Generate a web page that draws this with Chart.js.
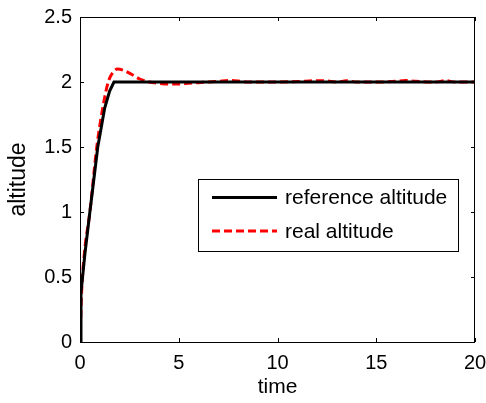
<!DOCTYPE html>
<html>
<head>
<meta charset="utf-8">
<script src="https://cdn.jsdelivr.net/npm/chart.js@4"></script>
<style>
  body { margin: 0; background: #fff; }
  canvas { display: block; }
</style>
</head>
<body>
<canvas id="myChart" width="486" height="403"></canvas>
<script>
const ctx = document.getElementById('myChart');

// referencia (negro)
const timeRef = [0, 0.05, 0.25, 0.5, 0.9, 1.25, 1.5, 1.72, 20];
const altRef = [0, 0.38, 0.68, 1.0, 1.5, 1.8, 1.93, 2.0, 2.0];

// altitud real (rojo discontinuo)
const timeReal = [0, 0.08, 0.22, 0.5, 0.85, 1.15, 1.43, 1.65, 1.9, 2.2, 2.6, 3.0, 3.5, 4.0, 4.5, 5.0, 5.5, 6.0, 6.5, 7.0, 7.5, 8.0, 8.5, 9, 10, 11, 12, 12.5, 13, 13.5, 14, 15, 16, 16.5, 17, 18, 18.5, 19, 20];
const altReal = [0, 0.38, 0.68, 1.0, 1.5, 1.8, 2.0, 2.07, 2.1, 2.09, 2.06, 2.025, 2.0, 1.99, 1.985, 1.985, 1.99, 1.995, 2.0, 2.005, 2.012, 2.008, 2.0, 2.0, 2.0, 2.003, 2.01, 2.008, 2.0, 2.01, 2.0, 2.0, 2.005, 2.012, 2.005, 2.0, 2.01, 2.0, 2.0];

const xTicks = [0, 5, 10, 15, 20];
const yTicks = [0, 0.5, 1, 1.5, 2, 2.5];
const labels = ['reference altitude', 'real altitude'];

const FONT = 'Liberation Sans, Arial, sans-serif';

const toPoints = (xs, ys) => xs.map((x, i) => ({ x: x, y: ys[i] }));

// marco, ticks hacia dentro y leyenda estilo matlab
const matlabAxes = {
  id: 'matlabAxes',
  afterDraw(chart) {
    const c = chart.ctx;
    const a = chart.chartArea;
    const sx = chart.scales.x, sy = chart.scales.y;
    c.save();
    c.strokeStyle = '#000';
    c.lineWidth = 1;
    c.strokeRect(a.left + 0.5, a.top + 0.5, a.right - a.left - 1, a.bottom - a.top);
    const tl = 4;
    c.beginPath();
    sx.ticks.forEach(t => {
      const px = Math.round(sx.getPixelForValue(t.value)) + 0.5;
      c.moveTo(px, a.bottom); c.lineTo(px, a.bottom - tl);
      c.moveTo(px, a.top); c.lineTo(px, a.top + tl);
    });
    sy.ticks.forEach(t => {
      const py = Math.round(sy.getPixelForValue(t.value)) + 0.5;
      c.moveTo(a.left, py); c.lineTo(a.left + tl, py);
      c.moveTo(a.right, py); c.lineTo(a.right - tl, py);
    });
    c.stroke();

    // leyenda
    const bx = 198, by = 179, bw = 260, bh = 72;
    c.fillStyle = '#fff';
    c.fillRect(bx, by, bw, bh);
    c.strokeRect(bx + 0.5, by + 0.5, bw, bh);
    const rows = [197.5, 231];
    chart.data.datasets.forEach((ds, i) => {
      c.beginPath();
      c.strokeStyle = ds.borderColor;
      c.lineWidth = ds.borderWidth;
      c.setLineDash(ds.borderDash || []);
      c.moveTo(212, rows[i]); c.lineTo(277, rows[i]);
      c.stroke();
      c.setLineDash([]);
      c.fillStyle = '#000';
      c.font = '21px ' + FONT;
      c.textBaseline = 'middle';
      c.fillText(ds.label, 285, rows[i] + 1);
    });
    c.restore();
  }
};

const myChart = new Chart(ctx, {
  type: 'line',
  data: {
    datasets: [{
      label: labels[0],
      data: toPoints(timeRef, altRef),
      borderColor: '#000000',
      borderWidth: 3,
      pointRadius: 0,
      tension: 0,
    }, {
      label: labels[1],
      data: toPoints(timeReal, altReal),
      borderColor: '#ff0000',
      borderWidth: 3,
      borderDash: [8, 4],
      pointRadius: 0,
      cubicInterpolationMode: 'monotone',
    }]
  },
  options: {
    responsive: false,
    animation: false,
    events: [],
    layout: {
      padding: { top: 17, right: 11, left: 0, bottom: 0 }
    },
    plugins: {
      legend: { display: false },
      tooltip: { enabled: false },
    },
    scales: {
      x: {
        type: 'linear',
        min: 0,
        max: 20,
        afterBuildTicks: (s) => { s.ticks = xTicks.map(v => ({ value: v })); },
        afterFit: (s) => { s.height = 61; s.paddingLeft = 0; s.paddingRight = 0; },
        grid: { display: false, drawTicks: false },
        border: { display: false },
        ticks: {
          padding: 9,
          color: '#000',
          font: { family: FONT, size: 20 },
        },
        title: {
          display: true,
          text: 'time',
          color: '#000',
          font: { family: FONT, size: 21 },
          padding: { top: 0, bottom: 3 },
        }
      },
      y: {
        type: 'linear',
        min: 0,
        max: 2.5,
        afterBuildTicks: (s) => { s.ticks = yTicks.map(v => ({ value: v })); },
        afterFit: (s) => { s.width = 80; s.paddingTop = 0; s.paddingBottom = 0; },
        grid: { display: false, drawTicks: false },
        border: { display: false },
        ticks: {
          padding: 8,
          color: '#000',
          font: { family: FONT, size: 20 },
          callback: (v) => String(v),
        },
        title: {
          display: true,
          text: 'altitude',
          color: '#000',
          font: { family: FONT, size: 23 },
          padding: { top: 5, bottom: 0 },
        }
      }
    }
  },
  plugins: [matlabAxes],
});
</script>
</body>
</html>
